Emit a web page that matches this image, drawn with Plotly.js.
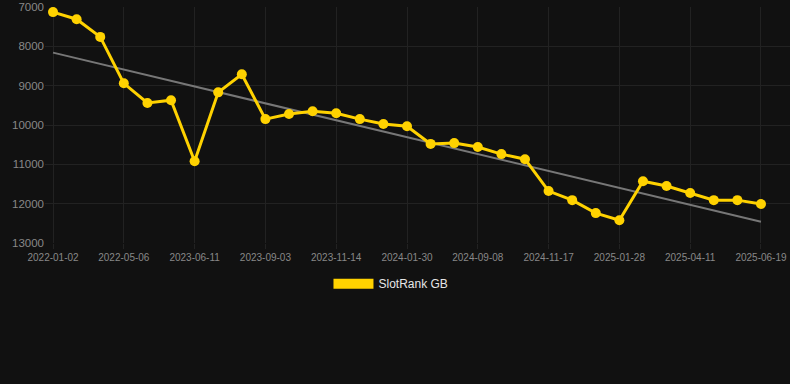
<!DOCTYPE html>
<html>
<head>
<meta charset="utf-8">
<script src="https://cdn.plot.ly/plotly-3.0.1.min.js"></script>
<style>
html,body{margin:0;padding:0;background:#111111;}
#chart{width:790px;height:384px;}
</style>
</head>
<body>
<div id="chart"></div>
<script>
// Categories (dates)
var dates = [
  "2022-01-02","2022-02-13","2022-03-27","2022-05-06","2022-07-15","2022-11-20",
  "2023-06-11","2023-07-09","2023-08-06","2023-09-03","2023-09-27","2023-10-21",
  "2023-11-14","2023-12-10","2024-01-05","2024-01-30","2024-04-12","2024-06-25",
  "2024-09-08","2024-10-01","2024-10-24","2024-11-17","2024-12-11","2025-01-04",
  "2025-01-28","2025-02-21","2025-03-18","2025-04-11","2025-05-04","2025-05-27",
  "2025-06-19"
];
// SlotRank GB values
var rankValues = [
  7130, 7310, 7760, 8940, 9440, 9370,
  10920, 9170, 8710, 9850, 9720, 9650,
  9700, 9850, 9975, 10030, 10480, 10460,
  10560, 10740, 10870, 11680, 11910, 12240,
  12420, 11430, 11550, 11730, 11910, 11910,
  12010
];
// Trend line endpoints (first and last category)
var trendDates = ["2022-01-02", "2025-06-19"];
var trendValues = [8160, 12460];
// Tick labels shown on the axes
var tickLabels = ["2022-01-02","2022-05-06","2023-06-11","2023-09-03","2023-11-14",
  "2024-01-30","2024-09-08","2024-11-17","2025-01-28","2025-04-11","2025-06-19"];
var yTicks = [7000, 8000, 9000, 10000, 11000, 12000, 13000];
var yTickText = ["7000", "8000", "9000", "10000", "11000", "12000", "13000"];

var gold = "#FFD200";

var traces = [
  {
    type: "scatter", mode: "lines",
    x: trendDates, y: trendValues,
    line: {color: "#777777", width: 2},
    showlegend: false, hoverinfo: "skip"
  },
  {
    type: "scatter", mode: "lines+markers",
    x: dates, y: rankValues,
    line: {color: gold, width: 3},
    marker: {color: gold, size: 10},
    showlegend: false, name: "SlotRank GB"
  },
  {
    type: "scatter", mode: "lines",
    x: [null], y: [null],
    line: {color: gold, width: 12},
    name: "SlotRank GB", showlegend: true, hoverinfo: "skip"
  }
];

var layout = {
  width: 790, height: 384,
  paper_bgcolor: "#111111", plot_bgcolor: "#111111",
  margin: {l: 45, r: 0, t: 7, b: 141},
  font: {family: "Liberation Sans, Arial, sans-serif", color: "#888888"},
  xaxis: {
    type: "category",
    categoryorder: "array", categoryarray: dates,
    range: [-0.34, 31.23],
    tickmode: "array", tickvals: tickLabels, ticktext: tickLabels,
    tickfont: {size: 10, color: "#888888"},
    gridcolor: "#222222", gridwidth: 1,
    showline: false, zeroline: false,
    ticks: "outside", ticklen: 5, tickcolor: "#222222"
  },
  yaxis: {
    autorange: false, range: [13000, 7000],
    tickmode: "array", tickvals: yTicks, ticktext: yTickText,
    tickfont: {size: 11.5, color: "#888888"},
    gridcolor: "#222222", gridwidth: 1,
    zeroline: false, showline: false
  },
  showlegend: true,
  legend: {
    orientation: "h", x: 0.4644, xanchor: "center",
    y: -0.111, yanchor: "top",
    font: {size: 12, color: "#e6e6e6"},
    itemwidth: 40,
    bgcolor: "rgba(0,0,0,0)"
  }
};

Plotly.newPlot("chart", traces, layout, {displayModeBar: false, staticPlot: true});
</script>
</body>
</html>
